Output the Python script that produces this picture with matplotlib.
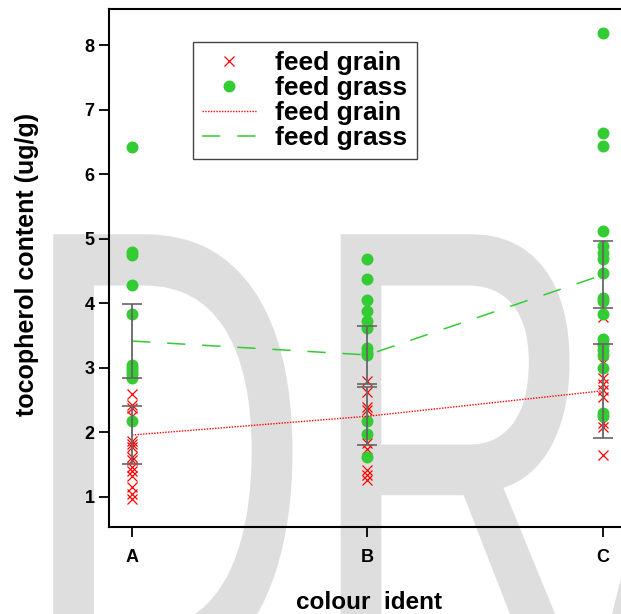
import matplotlib
matplotlib.use("Agg")
import matplotlib.pyplot as plt
import numpy as np
from matplotlib.textpath import TextPath
from matplotlib.patches import PathPatch
from matplotlib.font_manager import FontProperties
from matplotlib.transforms import Affine2D
from matplotlib.lines import Line2D

plt.rcParams.update({"font.family": "Liberation Sans", "font.weight": "bold"})

# ---- data ----
categories = ["A", "B", "C"]
grain_vals = [
    [2.6, 2.42, 2.38, 2.25, 1.87, 1.82, 1.78, 1.62, 1.57, 1.47, 1.4, 1.33, 1.15, 1.05, 0.97],
    [2.8, 2.63, 2.39, 2.34, 1.83, 1.75, 1.42, 1.34, 1.26],
    [3.78, 3.08, 2.85, 2.75, 2.65, 2.55, 2.15, 2.08, 1.65],
]
grass_vals = [
    [6.42, 4.79, 4.75, 4.29, 3.83, 3.05, 3.0, 2.95, 2.9, 2.85, 2.17],
    [4.68, 4.38, 4.05, 3.88, 3.72, 3.62, 3.3, 3.25, 3.2, 2.18, 1.97, 1.62],
    [8.19, 6.64, 6.44, 5.12, 4.88, 4.78, 4.68, 4.47, 4.08, 4.03, 3.83,
     3.45, 3.35, 3.27, 3.2, 3.0, 2.3, 2.25],
]
grain_mean = [1.96, 2.25, 2.645]
grain_err = [0.455, 0.45, 0.725]
grass_mean = [3.415, 3.2, 4.44]
grass_err = [0.57, 0.45, 0.52]
yticks = [1, 2, 3, 4, 5, 6, 7, 8]

C_GRAIN = "#ff0000"
C_GRASS = "#33cc33"

W, H = 621, 614
fig = plt.figure(figsize=(W / 100, H / 100), dpi=100)

# ---- DRAFT watermark behind everything (stroked a bit to thicken) ----
tp = TextPath((0, 0), "DRAFT", size=1,
              prop=FontProperties(family="Liberation Sans", weight="normal"))
ext = tp.get_extents()
tr = (Affine2D().translate(-ext.x0, -ext.y1).scale(398, 640)
      .translate(55, H - 236).scale(1 / W, 1 / H) + fig.transFigure)
fig.add_artist(PathPatch(tp, transform=tr, facecolor="#dedede",
                         edgecolor="#dedede", lw=2.5, zorder=-1))

ax = fig.add_axes([108.5 / W, 87 / H, 529.7 / W, 518 / H])
ax.patch.set_alpha(0)
ax.set_xlim(0.9, 3.15)
ax.set_ylim(0.535, 8.558)

xs = np.arange(1, len(categories) + 1)
for x, g, s in zip(xs, grain_vals, grass_vals):
    ax.plot([x] * len(g), g, ls="none", marker="x", ms=7.2, mew=0.9,
            color=C_GRAIN, zorder=2)
    ax.plot([x] * len(s), s, ls="none", marker="o", ms=8.6, mew=0,
            color=C_GRASS, zorder=2)

ax.plot(xs, grain_mean, ls=(0, (1, 1)), lw=1, color=C_GRAIN, zorder=3)
ax.plot(xs, grass_mean, ls=(0, (12, 11)), lw=1.1, color=C_GRASS, zorder=3)

for m, e in [(grain_mean, grain_err), (grass_mean, grass_err)]:
    eb = ax.errorbar(xs, m, yerr=e, fmt="none", ecolor="0.4", elinewidth=1.3,
                     capsize=7, capthick=1.2, zorder=4)
    for cl in eb[1]:
        cl.set_color("black")

ax.set_xticks(xs)
ax.set_xticklabels(categories)
ax.set_yticks(yticks)
for sp in ax.spines.values():
    sp.set_linewidth(1.5)
ax.tick_params(axis="both", direction="out", length=7, width=1.3, labelsize=13)
ax.tick_params(axis="x", pad=8.6)
ax.tick_params(axis="y", pad=3)

fig.text(27 / W, 1 - 264 / H, "tocopherol content (ug/g)", rotation=90,
         ha="center", va="center", fontsize=18, fontweight="bold")
fig.text(369 / W, 1 - 609 / H, "colour  ident", ha="center", va="baseline",
         fontsize=17.5, fontweight="bold")

handles = [
    Line2D([], [], ls="none", marker="x", ms=7.2, mew=0.9, color=C_GRAIN),
    Line2D([], [], ls="none", marker="o", ms=8.6, mew=0, color=C_GRASS),
    Line2D([], [], ls=(0, (1, 1)), lw=1, color=C_GRAIN),
    Line2D([], [], ls=(0, (12, 11)), lw=1.1, color=C_GRASS),
]
labels = ["feed grain", "feed grass", "feed grain", "feed grass"]
leg = ax.legend(handles, labels, loc="upper left", bbox_to_anchor=(0.1595, 0.936),
                prop=dict(size=19, weight="bold"), frameon=True, fancybox=False,
                edgecolor="#444444", framealpha=1, labelspacing=0.03,
                handlelength=2.05, handletextpad=0.72, borderpad=0.35,
                borderaxespad=0, numpoints=1)
leg.get_frame().set_linewidth(1.0)

fig.savefig("out.png", dpi=100)
